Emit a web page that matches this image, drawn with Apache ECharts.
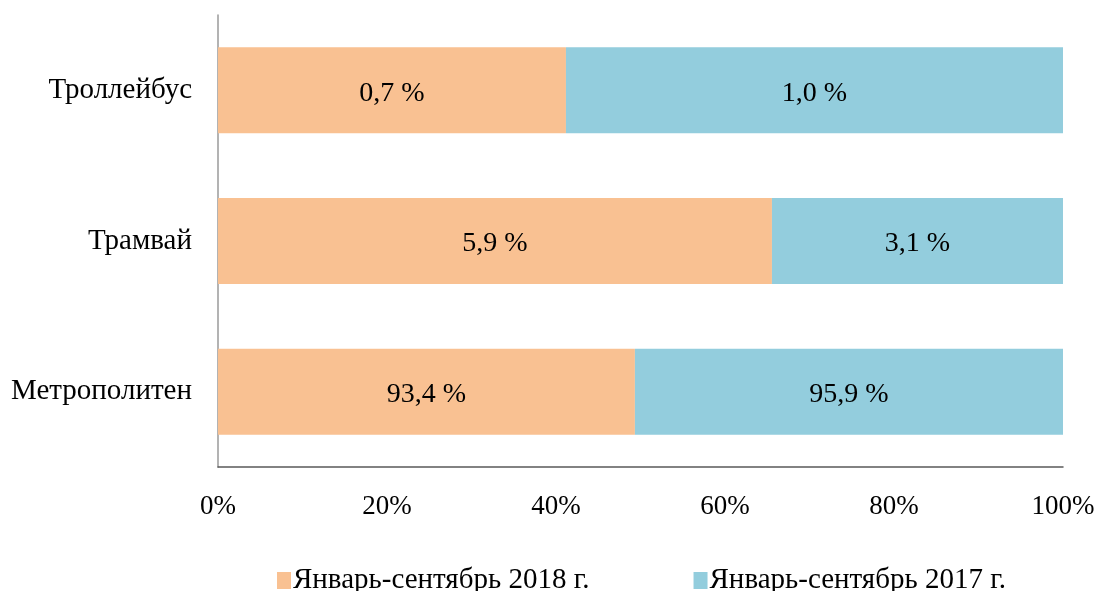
<!DOCTYPE html>
<html>
<head>
<meta charset="utf-8">
<script src="https://cdn.jsdelivr.net/npm/echarts@6/dist/echarts.min.js"></script>
<style>
    html, body { margin: 0; padding: 0; background: #fff; }
    #chart { width: 1098px; height: 591px; }
</style>
</head>
<body>
<div id="chart"></div>
<script>
    // категории снизу вверх, как на оси
    const categories = ['Метрополитен', 'Трамвай', 'Троллейбус'];
    const values2018 = [93.4, 5.9, 0.7];
    const values2017 = [95.9, 3.1, 1.0];
    const seriesNames = ['Январь-сентябрь 2018 г.', 'Январь-сентябрь 2017 г.'];
    const tickLabels = ['0%', '20%', '40%', '60%', '80%', '100%'];

    const font = '"Liberation Serif", "Times New Roman", serif';
    const colors = ['#F9C192', '#93CDDD'];

    // 100% нормировка, подписи — исходные значения
    function share(a, b) {
        return a.map((v, i) => v / (v + b[i]) * 100);
    }
    const share2018 = share(values2018, values2017);
    const share2017 = share(values2017, values2018);

    function fmt(v) {
        return v.toFixed(1).replace('.', ',') + ' %';
    }

    function makeSeries(name, shares, raw, idx) {
        return {
            name: name,
            type: 'bar',
            stack: 'total',
            barWidth: 86,
            itemStyle: { color: colors[idx] },
            label: {
                show: true,
                position: 'inside',
                offset: [0, 3],
                color: '#000',
                fontFamily: font,
                fontSize: 28,
                formatter: (p) => fmt(raw[p.dataIndex])
            },
            data: shares
        };
    }

    const chart = echarts.init(document.getElementById('chart'));
    chart.setOption({
        animation: false,
        color: colors,
        grid: { left: 218, right: 35, top: 15, bottom: 124, containLabel: false },
        legend: {
            data: seriesNames,
            left: 272,
            top: 561,
            icon: 'rect',
            itemWidth: 14,
            itemHeight: 17,
            itemGap: 104,
            textStyle: { fontFamily: font, fontSize: 29, color: '#000', padding: [0, 0, 0, -3] }
        },
        xAxis: {
            type: 'value',
            min: 0,
            max: 100,
            interval: 20,
            axisLine: { show: true, lineStyle: { color: '#5a5a5a', width: 1.5 } },
            axisTick: { show: false },
            splitLine: { show: false },
            axisLabel: {
                margin: 26,
                fontFamily: font,
                fontSize: 27,
                color: '#000',
                formatter: (v) => tickLabels[Math.round(v / 20)]
            }
        },
        yAxis: {
            type: 'category',
            data: categories,
            axisLine: { show: true, lineStyle: { color: '#9a9a9a', width: 1.5 } },
            axisTick: { show: false },
            axisLabel: {
                margin: 26,
                padding: [6, 0, 0, 0],
                fontFamily: font,
                fontSize: 29,
                color: '#000'
            }
        },
        series: [
            makeSeries(seriesNames[0], share2018, values2018, 0),
            makeSeries(seriesNames[1], share2017, values2017, 1)
        ]
    });
</script>
</body>
</html>
